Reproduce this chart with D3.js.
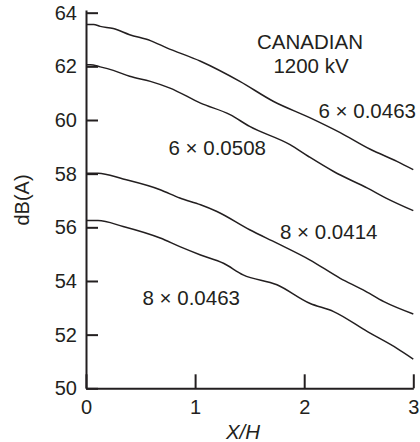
<!DOCTYPE html>
<html>
<head>
<meta charset="utf-8">
<script src="https://cdn.jsdelivr.net/npm/d3@7"></script>
<style>
  html, body { margin: 0; padding: 0; background: #fff; }
  svg text { font-family: "Liberation Sans", Arial, Helvetica, sans-serif; fill: #231f20; }
</style>
</head>
<body>
<svg id="chart" width="420" height="442"></svg>
<script>
// ---- Data ----
const xTicks = [0, 1, 2, 3];
const yTicks = [50, 52, 54, 56, 58, 60, 62, 64];

const xA = [0, 0.07, 0.13, 0.25, 0.40, 0.59, 0.74, 1.05, 1.41, 1.72, 2.05, 2.33, 2.61, 2.85, 3.0];
const yA = [63.56, 63.56, 63.49, 63.41, 63.18, 62.96, 62.69, 62.19, 61.44, 60.69, 60.09, 59.53, 58.90, 58.46, 58.15];

const xB = [0, 0.04, 0.13, 0.25, 0.40, 0.59, 0.77, 1.05, 1.32, 1.50, 1.87, 2.04, 2.27, 2.58, 2.75, 3.0];
const yB = [62.06, 62.06, 61.98, 61.85, 61.63, 61.44, 61.19, 60.63, 60.20, 59.76, 59.08, 58.64, 58.08, 57.46, 57.09, 56.62];

const xC = [0, 0.11, 0.34, 0.68, 0.86, 1.05, 1.20, 1.50, 1.75, 2.05, 2.33, 2.54, 2.73, 3.0];
const yC = [58.02, 58.02, 57.80, 57.40, 57.09, 56.84, 56.59, 55.91, 55.41, 54.79, 54.10, 53.67, 53.23, 52.77];

const xD = [0, 0.11, 0.34, 0.68, 0.86, 1.05, 1.26, 1.44, 1.75, 2.05, 2.27, 2.58, 2.85, 3.0];
const yD = [56.25, 56.25, 56.03, 55.60, 55.28, 54.97, 54.66, 54.23, 53.86, 53.17, 52.86, 52.11, 51.49, 51.09];

const seriesLabels = ["6 × 0.0463", "6 × 0.0508", "8 × 0.0414", "8 × 0.0463"];
const titleLines = ["CANADIAN", "1200 kV"];
const xLabel = "X/H";
const yLabel = "dB(A)";

// ---- Chart ----
const svg = d3.select("#chart");
const ink = "#231f20";

const x = d3.scaleLinear().domain([0, 3]).range([86, 413.3]);
const y = d3.scaleLinear().domain([50, 64.1]).range([388.3, 10.0]);

// y axis
const gy = svg.append("g").attr("transform", `translate(${x(0)},0)`)
  .call(d3.axisLeft(y).tickValues(yTicks).tickSize(-12).tickSizeOuter(0).tickPadding(9).tickFormat(d3.format("d")));
gy.select(".domain").attr("stroke", ink).attr("stroke-width", 2);
gy.selectAll(".tick line").attr("stroke", ink).attr("stroke-width", 2);
gy.selectAll(".tick text").attr("font-size", 20).attr("fill", ink)
  .attr("font-family", "Liberation Sans, Arial, sans-serif");

// x axis
const gx = svg.append("g").attr("transform", `translate(0,${y(50)})`)
  .call(d3.axisBottom(x).tickValues(xTicks).tickSize(-14).tickSizeOuter(0).tickPadding(8).tickFormat(d3.format("d")));
gx.select(".domain").attr("stroke", ink).attr("stroke-width", 2);
gx.selectAll(".tick line").attr("stroke", ink).attr("stroke-width", 2);
gx.selectAll(".tick text").attr("font-size", 20).attr("fill", ink).attr("dy", "0.9em")
  .attr("font-family", "Liberation Sans, Arial, sans-serif");

// curves
const line = d3.line().x(d => x(d[0])).y(d => y(d[1])).curve(d3.curveMonotoneX);
const series = [[xA, yA], [xB, yB], [xC, yC], [xD, yD]];
series.forEach(([xs, ys]) => {
  svg.append("path")
    .datum(xs.map((v, i) => [v, ys[i]]))
    .attr("d", line)
    .attr("fill", "none")
    .attr("stroke", ink)
    .attr("stroke-width", 1.5);
});

// annotations
svg.append("text").attr("x", 310).attr("y", 49).attr("text-anchor", "middle")
  .attr("font-size", 20.5).text(titleLines[0]);
svg.append("text").attr("x", 311).attr("y", 72.5).attr("text-anchor", "middle")
  .attr("font-size", 20.5).text(titleLines[1]);

const labelPos = [[318.5, 118], [168.5, 155], [280, 239], [142.5, 305]];
seriesLabels.forEach((t, i) => {
  svg.append("text").attr("x", labelPos[i][0]).attr("y", labelPos[i][1])
    .attr("font-size", 20.5).text(t);
});

// axis titles
svg.append("text").attr("x", 243).attr("y", 439).attr("text-anchor", "middle")
  .attr("font-size", 20.5).attr("font-style", "italic").text(xLabel);
svg.append("text").attr("transform", "translate(29,200) rotate(-90)")
  .attr("text-anchor", "middle").attr("font-size", 20).text(yLabel);
</script>
</body>
</html>
